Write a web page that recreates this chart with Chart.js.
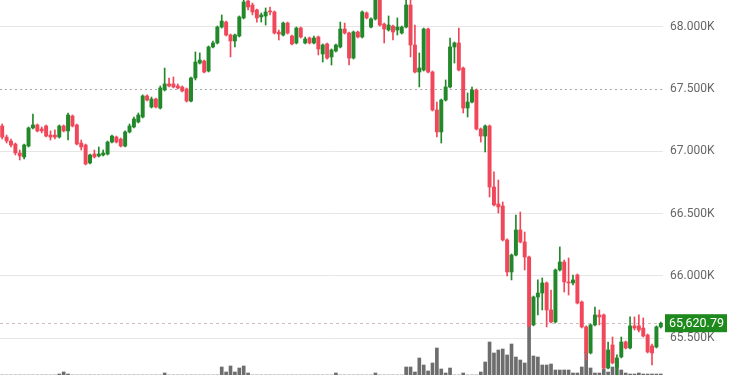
<!DOCTYPE html>
<html>
<head>
<meta charset="utf-8">
<script src="https://cdn.jsdelivr.net/npm/chart.js@4.4.1/dist/chart.umd.min.js"></script>
<style>
  html, body { margin: 0; padding: 0; background: #fff; }
  #wrap { width: 750px; height: 375px; }
</style>
</head>
<body>
<div id="wrap"><canvas id="chart"></canvas></div>
<script>
// candle data, oldest first
var OPEN = [
  67204,67115,67083,67059,66987,66955,67043,67188,67212,67180,
  67204,67131,67131,67115,67204,67164,67284,67212,67067,67051,
  66907,66979,66963,66971,66979,67075,67115,67099,67043,67156,
  67196,67236,67276,67445,67356,67420,67348,67493,67541,67541,
  67525,67517,67501,67404,67589,67709,67725,67645,67838,67870,
  67998,68038,67934,67886,67926,68071,68207,68175,68135,68079,
  68087,68127,68119,67958,67934,68030,67926,67870,67990,67870,
  67910,67870,67918,67782,67862,67758,67806,67838,67982,67950,
  67749,67958,67918,68111,67998,68063,68220,68022,67974,68006,
  67974,67950,67998,68175,67854,67637,67653,67982,67637,67332,
  67156,67412,67517,67838,67870,67669,67348,67396,67493,67180,
  67123,67204,66714,66578,66562,66289,66032,66168,66369,66273,
  66152,65607,65831,65863,65944,65727,65631,66048,66112,65952,
  65944,66008,65791,65591,65382,65607,65687,65687,65261,65446,
  65269,65350,65470,65422,65599,65599,65582,65526,65438,65430,
  65591
];
var HIGH = [
  67220,67131,67099,67067,67011,67059,67196,67300,67220,67196,
  67212,67164,67172,67212,67212,67308,67292,67220,67091,67059,
  66979,67011,67035,67011,67083,67131,67123,67107,67164,67220,
  67276,67308,67453,67453,67436,67428,67525,67669,67589,67597,
  67541,67525,67509,67597,67798,67790,67733,67846,67886,68006,
  68095,68046,67942,67942,68087,68215,68215,68191,68143,68111,
  68151,68159,68127,67974,68038,68038,67934,67998,67998,67918,
  67918,67926,67926,67862,67870,67822,67862,68038,68030,67958,
  67966,67966,68127,68119,68071,68260,68260,68030,68087,68014,
  68071,68006,68215,68215,68014,67790,67990,67990,67645,67396,
  67420,67573,67910,67878,67990,67677,67469,67517,67501,67188,
  67212,67212,66835,66770,66594,66297,66176,66489,66513,66353,
  66160,65839,65968,65984,65952,65887,66056,66233,66128,66144,
  66008,66016,65799,65599,65615,65751,65727,65695,65470,65510,
  65366,65510,65478,65671,65671,65687,65663,65534,65454,65599,
  65630
];
var LOW = [
  67099,67067,67035,66971,66931,66939,67035,67180,67156,67148,
  67115,67091,67099,67107,67156,67091,67196,67051,67011,66891,
  66899,66947,66955,66963,66971,67067,67067,67035,67035,67148,
  67188,67228,67268,67404,67348,67348,67340,67485,67517,67509,
  67501,67477,67396,67396,67573,67701,67629,67637,67830,67862,
  67990,67926,67758,67838,67918,68063,68135,68095,68038,68038,
  68014,68095,67942,67894,67926,67942,67854,67862,67910,67862,
  67862,67862,67774,67717,67741,67693,67798,67830,67942,67693,
  67741,67910,67910,68063,67990,68054,68006,67870,67966,67894,
  67934,67942,67990,67758,67629,67517,67645,67629,67324,67115,
  67067,67404,67509,67709,67645,67308,67276,67388,67172,67075,
  66995,66634,66562,66505,66281,66000,65968,66160,66265,66048,
  65591,65599,65687,65727,65591,65623,65623,66040,65871,65847,
  65928,65775,65582,65326,65374,65599,65607,65253,65253,65294,
  65205,65342,65414,65414,65566,65550,65510,65382,65286,65422,
  65582
];
var CLOSE = [
  67115,67083,67051,66987,66963,67051,67188,67212,67164,67164,
  67123,67115,67115,67204,67164,67292,67204,67059,67035,66899,
  66971,66955,66979,66987,67075,67123,67075,67043,67156,67204,
  67260,67292,67445,67412,67420,67356,67509,67541,67525,67517,
  67509,67485,67404,67589,67717,67733,67637,67838,67870,67998,
  68046,67934,67886,67934,68079,68199,68159,68119,68071,68095,
  68119,68119,67950,67942,68030,67950,67862,67990,67918,67902,
  67870,67910,67822,67854,67749,67814,67854,67982,67950,67749,
  67958,67918,68119,68071,68063,68220,68014,67982,68014,67958,
  67998,67998,68175,67854,67637,67669,67982,67637,67332,67156,
  67412,67517,67838,67870,67653,67348,67396,67493,67180,67123,
  67204,66714,66570,66554,66289,66032,66168,66369,66273,66152,
  65599,65831,65863,65944,65727,65631,66048,66112,65952,65944,
  65968,65783,65591,65382,65607,65687,65671,65261,65406,65302,
  65342,65470,65422,65599,65582,65566,65518,65390,65382,65591,
  65620.79
];
var VOLUME = [
  0,0,0,0,0,0,0,0,0,0,
  0,0,0,1,3,1,0,0,0,0,
  0,0,0,0,0,0,0,0,0,0,
  0,0,0,0,0,0,0,2,0,0,
  0,0,0,0,0,0,0,0,0,0,
  8,3,9,3,7,9,2,0,0,0,
  0,0,0,0,0,0,0,0,0,0,
  0,0,0,0,0,0,2,0,0,0,
  0,0,0,0,0,2,0,0,0,0,
  0,0,8,8,3,17,10,4,12,27,
  6,2,7,0,0,2,0,0,0,3,
  13,33,22,25,26,20,31,18,15,12,
  49,19,18,10,10,11,5,5,5,5,
  2,2,8,23,7,2,2,6,3,8,
  14,5,2,1,1,2,1,1,1,1,
  1
];
var TICK_VALUES = [65500, 66000, 66500, 67000, 67500, 68000];
var PREV_CLOSE = 67500;
var LAST_PRICE = 65620.79;
var Y_MIN = 65205, Y_MAX = 68215;
var VOL_MAX = 375;

var LABELS = CLOSE.map(function (c, i) { return 'c' + (i + 1); });

var GREEN = '#22882a';
var RED = '#f0485a';
var colors = CLOSE.map(function (c, i) { return c >= OPEN[i] ? GREEN : RED; });

var priceTag = {
  id: 'priceTag',
  beforeDatasetsDraw: function (chart) {
    var ctx = chart.ctx, area = chart.chartArea;
    var y = Math.round(chart.scales.y.getPixelForValue(LAST_PRICE)) + 0.5;
    ctx.save();
    ctx.strokeStyle = 'rgba(190,160,165,0.7)';
    ctx.setLineDash([3, 3]);
    ctx.lineWidth = 1;
    ctx.beginPath();
    ctx.moveTo(area.left, y);
    ctx.lineTo(area.right, y);
    ctx.stroke();
    ctx.restore();
  },
  afterDraw: function (chart) {
    var ctx = chart.ctx, area = chart.chartArea;
    var y = chart.scales.y.getPixelForValue(LAST_PRICE);
    var txt = LAST_PRICE.toLocaleString('en-US', { minimumFractionDigits: 2 });
    ctx.save();
    ctx.fillStyle = '#1e8a1e';
    ctx.fillRect(area.right + 2, y - 9, 62, 18);
    ctx.fillStyle = '#fff';
    ctx.font = '12.5px Roboto';
    ctx.textBaseline = 'middle';
    ctx.textAlign = 'left';
    ctx.fillText(txt, area.right + 6, y + 0.5);
    ctx.restore();
  }
};

new Chart(document.getElementById('chart'), {
  type: 'bar',
  data: {
    labels: LABELS,
    datasets: [
      {
        label: 'body',
        data: OPEN.map(function (o, i) { return [o, CLOSE[i]]; }),
        backgroundColor: colors,
        barThickness: 3.3,
        minBarLength: 1,
        grouped: false,
        order: 1,
        yAxisID: 'y'
      },
      {
        label: 'wick',
        data: LOW.map(function (l, i) { return [l, HIGH[i]]; }),
        backgroundColor: colors,
        barThickness: 1,
        grouped: false,
        order: 2,
        yAxisID: 'y'
      },
      {
        label: 'volume',
        data: VOLUME,
        backgroundColor: '#6d6d6d',
        barThickness: 3,
        grouped: false,
        order: 3,
        yAxisID: 'yVol'
      }
    ]
  },
  options: {
    responsive: true,
    maintainAspectRatio: false,
    animation: false,
    layout: { padding: 0 },
    plugins: { legend: { display: false }, tooltip: { enabled: false } },
    scales: {
      x: { display: false, offset: true, grid: { display: false } },
      y: {
        position: 'right',
        min: Y_MIN,
        max: Y_MAX,
        afterBuildTicks: function (s) {
          s.ticks = TICK_VALUES.map(function (v) { return { value: v }; });
        },
        afterFit: function (s) {
          s.width = 87;
          s.paddingTop = 0;
          s.paddingBottom = 0;
        },
        ticks: {
          padding: 7,
          color: '#666',
          font: { family: 'Roboto', size: 12 },
          callback: function (v) { return (v / 1000).toFixed(3) + 'K'; }
        },
        grid: {
          drawTicks: false,
          lineWidth: 1,
          color: function (c) {
            return c.tick && c.tick.value === PREV_CLOSE ? '#a8a8a8' : '#e6e6e6';
          }
        },
        border: {
          display: false,
          dash: function (c) {
            return c.tick && c.tick.value === PREV_CLOSE ? [2, 3] : [];
          }
        }
      },
      yVol: { display: false, min: 0, max: VOL_MAX }
    }
  },
  plugins: [priceTag]
});
</script>
</body>
</html>
